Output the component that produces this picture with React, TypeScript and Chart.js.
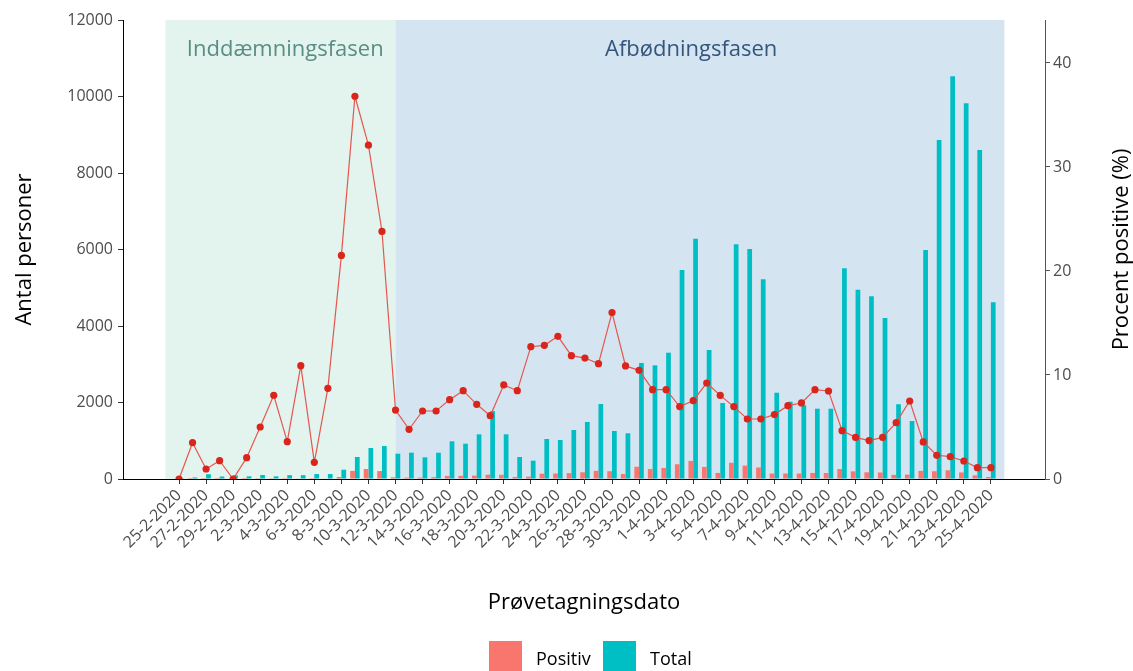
import React, { useEffect, useRef } from 'react';
import { Chart, registerables } from 'chart.js';

Chart.register(...registerables);

// ---------- data ----------
const dates = [
  '25-2-2020', '26-2-2020', '27-2-2020', '28-2-2020', '29-2-2020',
  '1-3-2020', '2-3-2020', '3-3-2020', '4-3-2020', '5-3-2020', '6-3-2020', '7-3-2020', '8-3-2020',
  '9-3-2020', '10-3-2020', '11-3-2020', '12-3-2020', '13-3-2020', '14-3-2020', '15-3-2020',
  '16-3-2020', '17-3-2020', '18-3-2020', '19-3-2020', '20-3-2020', '21-3-2020', '22-3-2020',
  '23-3-2020', '24-3-2020', '25-3-2020', '26-3-2020', '27-3-2020', '28-3-2020', '29-3-2020',
  '30-3-2020', '31-3-2020',
  '1-4-2020', '2-4-2020', '3-4-2020', '4-4-2020', '5-4-2020', '6-4-2020', '7-4-2020', '8-4-2020',
  '9-4-2020', '10-4-2020', '11-4-2020', '12-4-2020', '13-4-2020', '14-4-2020', '15-4-2020',
  '16-4-2020', '17-4-2020', '18-4-2020', '19-4-2020', '20-4-2020', '21-4-2020', '22-4-2020',
  '23-4-2020', '24-4-2020', '25-4-2020',
];

const positiv = [
  0, 1, 1, 1, 0, 1, 5, 6, 4, 11,
  2, 11, 53, 212, 262, 207, 45, 35, 38, 48,
  80, 82, 88, 112, 110, 52, 62, 138, 143, 153,
  175, 214, 203, 130, 320, 260, 290, 385, 473, 315,
  158, 425, 350, 302, 142, 143, 142, 158, 156, 260,
  200, 176, 170, 108, 115, 213, 203, 228, 172, 95, 52,
];

const total = [
  5, 40, 125, 65, 95, 70, 105, 70, 100, 100,
  130, 130, 244, 575, 810, 862, 662, 688, 567, 688,
  985, 923, 1168, 1778, 1168, 575, 479, 1046, 1019, 1281,
  1490, 1960, 1255, 1194, 3032, 2972, 3302, 5463, 6282, 3372,
  1987, 6135, 6012, 5220, 2256, 2021, 1926, 1838, 1838, 5507,
  4949, 4776, 4209, 1955, 1515, 5986, 8861, 10527, 9821, 8600, 4619,
];

const procent = [
  0, 3.49, 0.96, 1.76, 0, 2.05, 5.0, 8.05, 3.59, 10.9,
  1.6, 8.72, 21.5, 36.8, 32.1, 23.8, 6.63, 4.78, 6.54, 6.54,
  7.63, 8.49, 7.18, 6.09, 9.04, 8.49, 12.72, 12.85, 13.72, 11.86,
  11.63, 11.09, 16.0, 10.87, 10.45, 8.59, 8.59, 6.96, 7.53, 9.23,
  8.04, 6.96, 5.77, 5.77, 6.19, 7.05, 7.31, 8.59, 8.46, 4.65,
  4.0, 3.69, 4.0, 5.42, 7.5, 3.56, 2.28, 2.15, 1.73, 1.09, 1.09,
];

const leftTicks = [0, 2000, 4000, 6000, 8000, 10000, 12000];
const rightTicks = [0, 10, 20, 30, 40];

const phaseNames = ['Inddæmningsfasen', 'Afbødningsfasen'];
const phaseStart = [-1, 16];
const phaseEnd = [16, 61];
const phaseLabelAt = [7.85, 37.85];

const legendNames = ['Positiv', 'Total'];

// ---------- styles ----------
const FONT = "'Open Sans', sans-serif";
const W = 1133;
const H = 671;
const phaseFill = ['#e3f4ef', '#d5e4f1'];
const phaseText = ['#5a8d83', '#34567c'];
const barColors = ['#F8766D', '#00BFC4'];

const phasePlugin = {
  id: 'phasePlugin',
  beforeDraw(chart: any) {
    const { ctx, chartArea: a, scales } = chart;
    const x = scales.x;
    ctx.save();
    phaseNames.forEach((_, i) => {
      const x0 = x.getPixelForValue(phaseStart[i]);
      const x1 = x.getPixelForValue(phaseEnd[i]);
      ctx.fillStyle = phaseFill[i];
      ctx.fillRect(x0, a.top, x1 - x0, a.bottom - a.top);
    });
    ctx.font = `22px ${FONT}`;
    ctx.textAlign = 'center';
    ctx.textBaseline = 'middle';
    phaseNames.forEach((name, i) => {
      ctx.fillStyle = phaseText[i];
      ctx.fillText(name, x.getPixelForValue(phaseLabelAt[i]), a.top + 30);
    });
    ctx.restore();
  },
  afterDraw(chart: any) {
    const { ctx, chartArea: a } = chart;
    ctx.save();
    // right axis title, reading bottom to top
    ctx.translate(1122, (a.top + a.bottom) / 2);
    ctx.rotate(-Math.PI / 2);
    ctx.font = `22px ${FONT}`;
    ctx.fillStyle = '#000';
    ctx.textAlign = 'center';
    ctx.textBaseline = 'middle';
    ctx.fillText('Procent positive (%)', 0, 0);
    ctx.restore();

    // legend
    ctx.save();
    const keyX = [489, 603];
    ctx.font = `18px ${FONT}`;
    ctx.textAlign = 'left';
    ctx.textBaseline = 'alphabetic';
    legendNames.forEach((name, i) => {
      ctx.fillStyle = barColors[i];
      ctx.fillRect(keyX[i], 641, 33, 33);
      ctx.fillStyle = '#000';
      ctx.fillText(name, keyX[i] + 47, 665);
    });
    ctx.restore();
  },
};

export default function App() {
  const canvasRef = useRef<HTMLCanvasElement | null>(null);

  useEffect(() => {
    if (!canvasRef.current) return;
    Chart.defaults.font.family = FONT;

    const chart = new Chart(canvasRef.current, {
      type: 'bar',
      data: {
        datasets: [
          {
            type: 'line',
            label: 'Procent positive',
            data: procent.map((v, i) => ({ x: i, y: v })),
            xAxisID: 'x',
            yAxisID: 'y1',
            borderColor: '#e4574f',
            borderWidth: 1.2,
            pointRadius: 3.6,
            pointBackgroundColor: '#d9251c',
            pointBorderWidth: 0,
            pointHoverRadius: 3.6,
            tension: 0,
            order: 0,
          } as any,
          {
            type: 'bar',
            label: legendNames[0],
            data: positiv.map((v, i) => ({ x: i, y: v })),
            xAxisID: 'x',
            yAxisID: 'y',
            backgroundColor: barColors[0],
            borderWidth: 0,
            categoryPercentage: 0.7,
            barPercentage: 1,
            order: 1,
          },
          {
            type: 'bar',
            label: legendNames[1],
            data: total.map((v, i) => ({ x: i, y: v })),
            xAxisID: 'x',
            yAxisID: 'y',
            backgroundColor: barColors[1],
            borderWidth: 0,
            categoryPercentage: 0.7,
            barPercentage: 1,
            order: 1,
          },
        ],
      },
      options: {
        responsive: false,
        animation: false,
        devicePixelRatio: 1,
        layout: { padding: { top: 20, left: 0, right: 0, bottom: 0 } },
        plugins: {
          legend: { display: false },
          tooltip: { enabled: false },
        },
        scales: {
          x: {
            type: 'linear',
            position: 'bottom',
            min: -4.14,
            max: 64,
            offset: false,
            afterBuildTicks: (s: any) => {
              s.ticks = dates
                .map((_, i) => i)
                .filter((i) => i % 2 === 0)
                .map((v) => ({ value: v }));
            },
            afterFit: (s: any) => {
              s.height = 192;
            },
            ticks: {
              autoSkip: false,
              minRotation: 45,
              maxRotation: 45,
              color: '#4d4d4d',
              font: { family: FONT, size: 16 },
              padding: 2,
              callback: (v: any) => dates[v] ?? '',
            },
            grid: {
              display: true,
              offset: false,
              drawOnChartArea: false,
              drawTicks: true,
              tickLength: 5,
              color: '#333333',
            },
            border: { display: true, color: '#000000', width: 1 },
            title: {
              display: true,
              text: 'Prøvetagningsdato',
              color: '#000000',
              font: { family: FONT, size: 22 },
              padding: { top: 0, bottom: 55 },
            },
          } as any,
          y: {
            type: 'linear',
            position: 'left',
            min: 0,
            max: 12000,
            afterBuildTicks: (s: any) => {
              s.ticks = leftTicks.map((v) => ({ value: v }));
            },
            afterFit: (s: any) => {
              s.width = 123;
            },
            ticks: {
              color: '#4d4d4d',
              font: { family: FONT, size: 16 },
              padding: 5,
              callback: (v: any) => String(v),
            },
            grid: {
              display: true,
              drawOnChartArea: false,
              drawTicks: true,
              tickLength: 5,
              color: '#333333',
            },
            border: { display: true, color: '#000000', width: 1 },
            title: {
              display: true,
              text: 'Antal personer',
              color: '#000000',
              font: { family: FONT, size: 22 },
              padding: { top: 12, bottom: 0 },
            },
          } as any,
          y1: {
            type: 'linear',
            position: 'right',
            min: 0,
            max: 44.13,
            afterBuildTicks: (s: any) => {
              s.ticks = rightTicks.map((v) => ({ value: v }));
            },
            afterFit: (s: any) => {
              s.width = 88;
            },
            ticks: {
              color: '#4d4d4d',
              font: { family: FONT, size: 16 },
              padding: 3,
              callback: (v: any) => String(v),
            },
            grid: {
              display: true,
              drawOnChartArea: false,
              drawTicks: true,
              tickLength: 5,
              color: '#555555',
            },
            border: { display: true, color: '#555555', width: 1 },
          } as any,
        },
      },
      plugins: [phasePlugin],
    });

    return () => chart.destroy();
  }, []);

  return (
    <div style={{ position: 'absolute', left: 0, top: 0, width: W, height: H, background: '#fff' }}>
      <canvas ref={canvasRef} width={W} height={H} style={{ display: 'block', width: W, height: H }} />
    </div>
  );
}
